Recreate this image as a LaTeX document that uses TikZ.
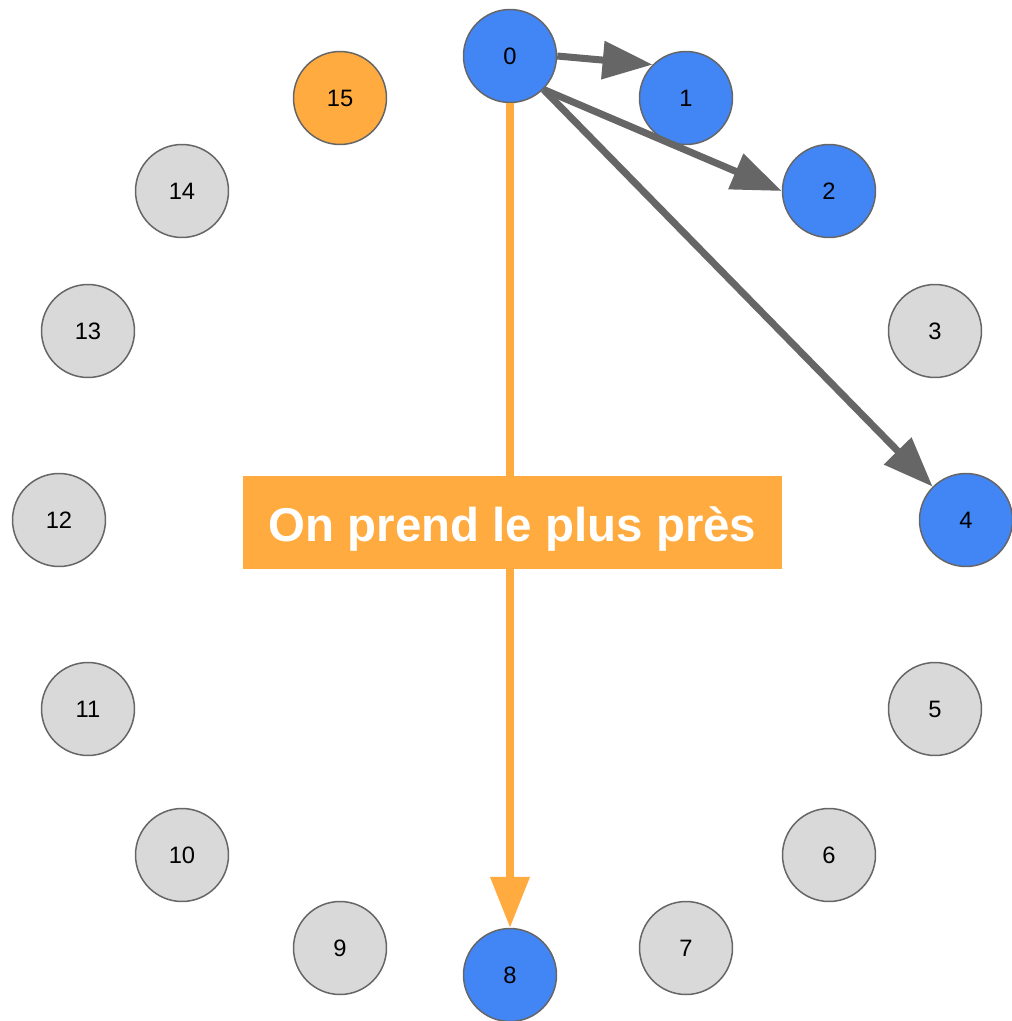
\documentclass[tikz,border=0pt]{standalone}
\usepackage{xcolor}
\usepackage{tikz}
\usepackage{fontspec}
\setmainfont{Liberation Sans}
\usetikzlibrary{arrows.meta}

\definecolor{slotblue}{HTML}{4285F4}
\definecolor{slotorange}{HTML}{FFAB40}
\definecolor{slotgray}{HTML}{D9D9D9}
\definecolor{linegray}{HTML}{666666}

\begin{document}
\begin{tikzpicture}[x=0.02cm, y=-0.02cm,
    slot/.style={circle, draw=linegray, line width=0.85pt, minimum size=1.86cm,
        inner sep=0pt, font=\fontsize{13.5}{16}\selectfont},
    hop/.style={-{Triangle[length=1cm, width=0.74cm]}, linegray, line width=4pt},
    jump/.style={-{Triangle[length=1.02cm, width=0.76cm]}, slotorange, line width=4.3pt}]
    % Fix the page size
    \useasboundingbox (0,0) rectangle (1011,1021);

    % Draw the 16 slots of the ring
    \foreach \i/\x/\y/\c in {0/510/56/slotblue, 1/686/98/slotblue, 2/829/191/slotblue,
        3/935/331/slotgray, 4/966/520/slotblue, 5/935/709/slotgray, 6/829/855/slotgray,
        7/686/948/slotgray, 8/510/975/slotblue, 9/340/948/slotgray, 10/182/855/slotgray,
        11/88/709/slotgray, 12/59/520/slotgray, 13/88/331/slotgray, 14/182/191/slotgray,
        15/340/98/slotorange}
        \node[slot, fill=\c] (n\i) at (\x,\y) {\i};

    % Arrows from slot 0
    \draw[hop] (n0.east) -- (n1.north west);
    \draw[hop] (n0.south east) -- (n2.west);
    \draw[hop] (n0.south east) -- (n4.north west);

    % The long jump to slot 8
    \draw[jump] (n0.south) -- (n8.north);

    % Label on top of the jump
    \node[fill=slotorange, text=white, font=\bfseries\fontsize{27}{32}\selectfont,
        minimum width=10.78cm, minimum height=1.86cm, inner sep=0pt,
        text height=0.74cm, text depth=0pt] (note) at (512.5,522.5) {On prend le plus près};
\end{tikzpicture}
\end{document}
